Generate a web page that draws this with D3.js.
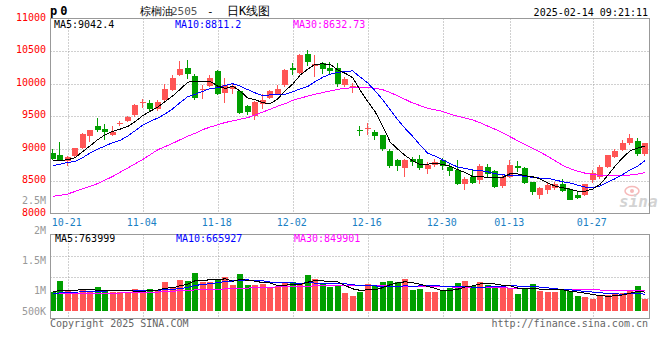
<!DOCTYPE html>
<html><head><meta charset="utf-8">
<script src="https://cdn.jsdelivr.net/npm/d3@7"></script>
<style>
html,body{margin:0;padding:0;background:#fff;}
svg{display:block;}
text{font-family:"DejaVu Sans Mono",monospace;}
</style></head><body>
<svg id="chart" width="660" height="360"></svg>
<script>
// ---------- data ----------
const open  = [8933,8897,8810,8881,9015,9189,9343,9297,9210,9385, 9420,9518,9700,9702,9615,9743,9897,10128,10246,10112,
               9902,9958,10189,9856,9922,9886,9651,9497,9682,9784, 9846,9984,10236,10169,10461,10266,10317,10236,10246,9980,
               9938,9277,9297,9251,9205,8958,8820,8702,8845,8845, 8687,8753,8830,8718,8676,8451,8564,8512,8718,8651,
               8420,8564,8728,8702,8487,8282,8359,8400,8461,8384, 8292,8287,8512,8564,8718,8871,8984,9087,9113,8912];
const high  = [8999,9097,8881,9015,9240,9292,9476,9374,9343,9430, 9497,9692,9763,9753,9743,9999,10128,10348,10358,10153,
               9974,10128,10205,10092,9999,9897,9666,9728,9846,9897, 9984,10230,10317,10450,10522,10435,10333,10333,10323,10100,
               10010,9343,9394,9292,9205,8999,8845,8845,8871,8897, 8794,8835,8850,8769,8820,8564,8666,8769,8769,8666,
               8589,8820,8805,8718,8487,8410,8487,8487,8528,8394, 8349,8461,8666,8743,8907,9000,9138,9220,9164,9077];
const low   = [8820,8820,8728,8871,8999,9102,9256,9138,9200,9340, 9410,9487,9625,9574,9574,9733,9881,10112,10076,9753,
               9769,9948,9830,9702,9845,9538,9512,9446,9615,9769, 9820,9948,10138,10153,10271,10102,10143,10128,9948,9950,
               9856,9189,9205,9128,8963,8707,8651,8563,8728,8666, 8615,8717,8666,8579,8435,8359,8461,8451,8564,8394,
               8400,8553,8640,8451,8282,8230,8297,8369,8333,8205, 8230,8272,8471,8538,8707,8861,8964,9051,8882,8882];
const close = [8840,8820,8871,9004,9230,9282,9292,9256,9261,9400, 9487,9666,9712,9605,9712,9922,10092,10220,10153,9784,
               9923,10092,9845,9974,9958,9548,9564,9712,9743,9881, 9912,10205,10215,10435,10333,10297,10225,10189,9999,10075,
               9958,9266,9323,9190,8989,8728,8728,8820,8794,8702, 8753,8794,8725,8656,8451,8528,8471,8728,8605,8410,
               8564,8753,8707,8471,8328,8400,8446,8461,8348,8215, 8241,8451,8625,8718,8897,8964,9087,9164,8912,9077];
const volume = [763,1225,857,682,898,763,992,857,763,763, 763,898,829,898,857,1184,951,1265,1225,1551,
                1172,1196,1253,1388,1061,1510,1061,1061,1090,992, 992,1143,1184,1090,1470,1306,1090,992,1061,747,
                625,788,1102,1061,1184,1225,1184,1306,857,898, 776,776,816,927,1143,1225,1021,1184,1061,1021,
                951,951,694,898,1102,816,776,776,857,816, 625,571,490,653,653,735,735,857,1021,490].map(v => v * 1000);
// moving-average values before a full window is available
const ma5Head  = [8820,8820,8825,8860];
const ma10Head = [8735,8760,8785,8800,8860,8930,8990,9040,9090];
const ma30 = [8265,8280,8300,8340,8380,8420,8460,8515,8570,8635, 8700,8765,8830,8905,8980,9030,9080,9135,9190,9235,
              9290,9330,9365,9400,9425,9450,9475,9515,9560,9605, 9650,9690,9740,9775,9805,9835,9860,9885,9910,9925,
              9935,9940,9938,9925,9905,9860,9810,9755,9700,9660, 9620,9595,9570,9530,9495,9470,9440,9395,9345,9295,
              9240,9180,9120,9060,9005,8945,8880,8810,8740,8690, 8650,8620,8600,8585,8578,8578,8582,8592,8608,8628];
const volMa5Head  = [770,850,850,840].map(v => v * 1000);
const volMa10Head = [690,740,760,770,780,790,800,810,830].map(v => v * 1000);
const volMa30 = [722,722,724,725,726,727,728,730,732,734, 735,740,750,760,772,785,805,829,845,858,
                 868,878,888,898,910,922,935,948,960,972, 982,990,995,1000,1010,1025,1040,1055,1060,1058,
                 1050,1040,1035,1030,1025,1018,1012,1005,1000,995, 992,988,984,980,975,970,965,960,955,950,
                 945,935,925,915,905,895,880,870,860,858, 857,857,857,856,855,855,854,852,851,850].map(v => v * 1000);
const dateTicks = ['10-21','11-04','11-18','12-02','12-16','12-30','01-13','01-27'];
const dateTickIndex = [2,12,22,32,42,52,61,72];
const priceTicks = [11000,10500,10000,9500,9000,8500,8000];
const volTickLabels = ['2.5M','2M','1.5M','1M','500K'];
const priceLegend = ['MA5:9042.4','MA10:8811.2','MA30:8632.73'];
const volLegend = ['MA5:763999','MA10:665927','MA30:849901'];
const titleName = '棕榈油', titleCode = '2505', titleKind = '日K线图';
const symbol = 'p0';
const stamp = '2025-02-14 09:21:11';

// ---------- layout ----------
const RED = '#ff5555', GREEN = '#009f00', GRID = '#a0a0a0', BORDER = '#999';
const L = 50.5, R = 649.5, PT = 18.5, PB = 213.5, VT = 234.5, VB = 318.5, VBASE = 311;
const svg = d3.select('#chart');
const n = close.length;
const x = d3.scaleLinear().domain([0, n - 1]).range([52.7, 52.7 + 7.5 * (n - 1)]);
const y = d3.scaleLinear().domain([8000, 11000]).range([PB, PT]);
const yv = d3.scaleLinear().domain([0, 3.12e6]).range([VBASE, VT]);
const yvLabel = d3.scalePoint().domain(volTickLabels).range([200, 320]);

function movingAvg(vals, w, head) {
  return vals.map((v, i) => i < w - 1 ? head[i] : d3.mean(vals.slice(i - w + 1, i + 1)));
}
const ma5 = movingAvg(close, 5, ma5Head), ma10 = movingAvg(close, 10, ma10Head);
const vma5 = movingAvg(volume, 5, volMa5Head), vma10 = movingAvg(volume, 10, volMa10Head);

const g = svg.append('g');
const dots = '1,2';
// vertical grid
const gx = dateTickIndex.map(i => Math.round(x(i)) + 0.5);
g.selectAll('.vg1').data(gx).join('line').attr('x1', d => d).attr('x2', d => d)
  .attr('y1', PT).attr('y2', PB).attr('stroke', GRID).attr('stroke-dasharray', dots);
g.selectAll('.vg2').data(gx).join('line').attr('x1', d => d).attr('x2', d => d)
  .attr('y1', VT).attr('y2', VB).attr('stroke', GRID).attr('stroke-dasharray', dots);
// horizontal grid price
g.selectAll('.hg').data(priceTicks.slice(1, -1)).join('line')
  .attr('x1', L).attr('x2', R).attr('y1', d => Math.round(y(d)) + 0.5).attr('y2', d => Math.round(y(d)) + 0.5)
  .attr('stroke', GRID).attr('stroke-dasharray', dots);
// horizontal grid volume (panel divisions)
g.selectAll('.hgv').data([1, 2, 3]).join('line')
  .attr('x1', L).attr('x2', R).attr('y1', d => Math.round(VT + d * (VB - VT) / 4) + 0.5)
  .attr('y2', d => Math.round(VT + d * (VB - VT) / 4) + 0.5)
  .attr('stroke', GRID).attr('stroke-dasharray', dots);

// watermark
const wm = g.append('g').attr('opacity', 0.55);
wm.append('ellipse').attr('cx', 632).attr('cy', 191).attr('rx', 7).attr('ry', 4.5)
  .attr('fill', 'none').attr('stroke', '#f08080').attr('stroke-width', 1.5);
wm.append('circle').attr('cx', 632).attr('cy', 191).attr('r', 2).attr('fill', '#f08080');
wm.append('text').attr('x', 619).attr('y', 207).text('sina')
  .attr('font-family', 'DejaVu Sans').attr('font-style', 'italic').attr('font-weight', 'bold')
  .attr('font-size', 16).attr('fill', '#b0b0b0');

// candles
const idx = d3.range(n);
const up = i => close[i] >= open[i];
const cg = g.append('g').attr('shape-rendering', 'crispEdges');
cg.selectAll('.wick').data(idx).join('line')
  .attr('x1', i => Math.round(x(i) - 3) + 2.5).attr('x2', i => Math.round(x(i) - 3) + 2.5)
  .attr('y1', i => Math.round(y(high[i]))).attr('y2', i => Math.round(y(low[i])))
  .attr('stroke', i => up(i) ? RED : GREEN);
cg.selectAll('.body').data(idx).join('rect')
  .attr('x', i => Math.round(x(i) - 3)).attr('width', 6)
  .attr('y', i => Math.round(y(Math.max(open[i], close[i]))))
  .attr('height', i => Math.max(1, Math.round(y(Math.min(open[i], close[i]))) - Math.round(y(Math.max(open[i], close[i])))))
  .attr('fill', i => up(i) ? RED : GREEN);

// volume bars
cg.selectAll('.vol').data(idx).join('rect')
  .attr('x', i => Math.round(x(i) - 3)).attr('width', 6)
  .attr('y', i => Math.round(yv(volume[i]))).attr('height', i => VBASE - Math.round(yv(volume[i])))
  .attr('fill', i => up(i) ? RED : GREEN);

// MA lines
const lineP = d3.line().x((d, i) => x(i)).y(d => y(d));
const lineV = d3.line().x((d, i) => x(i)).y(d => yv(d));
[[ma30, '#ff00ff'], [ma10, '#0000ff'], [ma5, '#000000']].forEach(([s, c]) =>
  g.append('path').attr('d', lineP(s)).attr('fill', 'none').attr('stroke', c).attr('stroke-width', 1)
    .attr('shape-rendering', 'crispEdges'));
[[volMa30, '#ff00ff'], [vma10, '#0000ff'], [vma5, '#000000']].forEach(([s, c]) =>
  g.append('path').attr('d', lineV(s)).attr('fill', 'none').attr('stroke', c).attr('stroke-width', 1)
    .attr('shape-rendering', 'crispEdges'));

// borders
const bg = g.append('g').attr('fill', 'none').attr('stroke', BORDER).attr('shape-rendering', 'crispEdges');
bg.append('rect').attr('x', L).attr('y', PT).attr('width', R - L).attr('height', PB - PT);
bg.append('rect').attr('x', L).attr('y', VT).attr('width', R - L).attr('height', VB - VT);

// price axis labels
g.selectAll('.pl').data(priceTicks).join('text')
  .attr('x', 46).attr('y', d => y(d) + 2).attr('text-anchor', 'end')
  .attr('font-size', 10).attr('fill', '#ff0000').text(d => d);
// volume axis labels
g.selectAll('.vl').data(volTickLabels).join('text')
  .attr('x', 46).attr('y', d => Math.min(yvLabel(d), 311) + 3.6).attr('text-anchor', 'end')
  .attr('font-size', 10).attr('fill', '#999').text(d => d);
// date labels
g.selectAll('.dl').data(dateTicks).join('text')
  .attr('x', (d, k) => Math.max(x(dateTickIndex[k]) - 1, 63)).attr('y', 225.5).attr('text-anchor', 'middle')
  .attr('font-size', 10).attr('fill', '#1a7fc4').text(d => d);

// legends
const lx = [54, 175, 293], lc = ['#000', '#0000ff', '#ff00ff'];
g.selectAll('.lg').data(priceLegend).join('text')
  .attr('x', (d, k) => lx[k]).attr('y', 28).attr('font-size', 10).attr('fill', (d, k) => lc[k]).text(d => d);
g.selectAll('.lgv').data(volLegend).join('text')
  .attr('x', (d, k) => lx[k] + 1).attr('y', 242).attr('font-size', 10).attr('fill', (d, k) => lc[k]).text(d => d);

// header
g.append('text').attr('x', 50).attr('y', 15).attr('font-size', 12).attr('font-weight', 'bold')
  .attr('letter-spacing', 3).attr('fill', '#000').text(symbol);
g.append('text').attr('x', 140).attr('y', 14.5).attr('font-family', '"Noto Sans CJK SC"').attr('font-size', 11)
  .attr('fill', '#000').text(titleName);
g.append('text').attr('x', 171).attr('y', 14.5).attr('font-family', '"DejaVu Sans"').attr('font-size', 11)
  .attr('fill', '#555').text(titleCode);
g.append('text').attr('x', 207).attr('y', 14.5).attr('font-size', 11).attr('fill', '#000').text('-');
g.append('text').attr('x', 227).attr('y', 14.5).attr('font-family', '"Noto Sans CJK SC"').attr('font-size', 12)
  .attr('fill', '#000').text(titleKind);
g.append('text').attr('x', 648).attr('y', 15.5).attr('text-anchor', 'end').attr('font-size', 10)
  .attr('fill', '#000').text(stamp);

// footer
g.append('text').attr('x', 50).attr('y', 327).attr('font-size', 10).attr('fill', '#666').text('Copyright 2025 SINA.COM');
g.append('text').attr('x', 648).attr('y', 327).attr('text-anchor', 'end').attr('font-size', 10).attr('fill', '#666')
  .text('http://finance.sina.com.cn');
</script>
</body></html>
